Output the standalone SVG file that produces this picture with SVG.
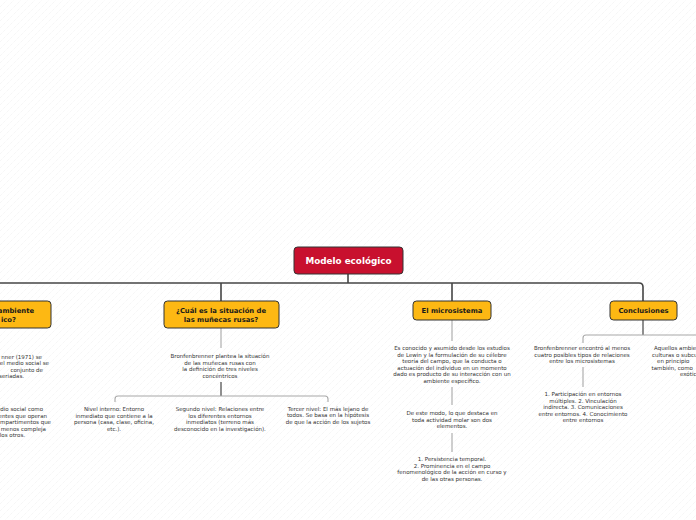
<svg xmlns="http://www.w3.org/2000/svg" width="696" height="520" viewBox="0 0 696 520">
<defs>
<pattern id="hatch" width="7" height="7" patternUnits="userSpaceOnUse">
<path d="M0 7 L7 0" stroke="#e9e9e9" stroke-width="0.6" stroke-dasharray="1 1"/>
</pattern>
<style>
.main{fill:none;stroke:#454545;stroke-width:1.6}
.sub{fill:none;stroke:#a8a8a8;stroke-width:1.1}
.dk{fill:none;stroke:#333;stroke-width:1.1}
.yel{fill:#fdb813;stroke:#333;stroke-width:1}
.red{fill:#c8102e;stroke:#333;stroke-width:1}
.nt{font-family:"DejaVu Sans",Verdana,sans-serif;font-weight:bold;font-size:6.8px;fill:#1a1a1a;text-anchor:middle}
.rt{font-family:"DejaVu Sans",Verdana,sans-serif;font-weight:bold;font-size:8.8px;fill:#fff;text-anchor:middle}
.t{font-family:"DejaVu Sans",Verdana,sans-serif;font-size:5.5px;fill:#333;text-anchor:middle}
.te{font-family:"DejaVu Sans",Verdana,sans-serif;font-size:5.5px;fill:#333;text-anchor:end}
.ts{font-family:"DejaVu Sans",Verdana,sans-serif;font-size:5.5px;fill:#333;text-anchor:start}
.ne{font-family:"DejaVu Sans",Verdana,sans-serif;font-weight:bold;font-size:6.8px;fill:#1a1a1a;text-anchor:end}
</style>
</defs>
<rect width="696" height="520" fill="#fff"/>
<rect width="696" height="520" fill="url(#hatch)"/>

<g id="connectors">
<path class="main" d="M-10 283 H639 Q643 283 643 287 V301"/>
<path class="main" d="M348 274 V283"/>
<path class="main" d="M221 283 V301"/>
<path class="main" d="M452 283 V301"/>
<path class="sub" d="M221 328 V348"/>
<path class="dk" d="M221 382 V396"/>
<path class="sub" d="M115 402 V399 Q115 396 118 396 H325 Q328 396 328 399 V402"/>
<path class="sub" d="M452 320 V341"/>
<path class="sub" d="M452 387 V405"/>
<path class="sub" d="M452 433 V452"/>
<path class="dk" d="M643 320 V335"/>
<path class="sub" d="M583 343 V338 Q583 335 586 335 H700"/>
<path class="sub" d="M583 367 V387"/>
</g>

<g id="root">
<rect class="red" x="294" y="247" width="109" height="27" rx="3.5"/>
<text class="rt" x="348.5" y="264">Modelo ecológico</text>
</g>

<g id="node-ambiente">
<rect class="yel" x="-60" y="301" width="111" height="27" rx="3.5"/>
<text class="ne" x="34" y="313">ambiente</text>
<text class="ne" x="16" y="321.5">ico?</text>
</g>
<g id="ambiente-t1">
<text class="te" x="42" y="358.5">nner (1971) se</text>
<text class="te" x="49" y="365">el medio social se</text>
<text class="te" x="43" y="371.5">conjunto de</text>
<text class="te" x="24" y="378">seriadas.</text>
</g>
<g id="ambiente-t2">
<text class="te" x="43" y="411">medio social como</text>
<text class="te" x="47" y="417.5">entes que operan</text>
<text class="te" x="51" y="424">mpartimentos  que</text>
<text class="te" x="46" y="430.5">menos compleja</text>
<text class="te" x="25" y="437">los otros.</text>
</g>

<g id="node-munecas">
<rect class="yel" x="164" y="301" width="115" height="27" rx="3.5"/>
<text class="nt" x="221" y="313.3">¿Cuál es la situación de</text>
<text class="nt" x="221" y="321.6">las muñecas rusas?</text>
</g>
<g id="munecas-t">
<text class="t" x="220" y="358">Bronfenbrenner plantea la situación</text>
<text class="t" x="220" y="364.6">de las muñecas rusas con</text>
<text class="t" x="220" y="371.2">la definición de tres niveles</text>
<text class="t" x="220" y="377.8">concéntricos</text>
</g>
<g id="nivel-interno">
<text class="t" x="114" y="411">Nivel interno: Entorno</text>
<text class="t" x="114" y="417.6">inmediato que contiene a la</text>
<text class="t" x="114" y="424.2">persona (casa, clase, oficina,</text>
<text class="t" x="114" y="430.8">etc.).</text>
</g>
<g id="segundo-nivel">
<text class="t" x="220" y="411">Segundo nivel: Relaciones entre</text>
<text class="t" x="220" y="417.6">los diferentes entornos</text>
<text class="t" x="220" y="424.2">inmediatos (terreno más</text>
<text class="t" x="220" y="430.8">desconocido en la investigación).</text>
</g>
<g id="tercer-nivel">
<text class="t" x="328" y="410.5">Tercer nivel: El más lejano de</text>
<text class="t" x="328" y="417">todos. Se basa en la hipótesis</text>
<text class="t" x="328" y="423.5">de que la acción de los sujetos</text>
</g>

<g id="node-microsistema">
<rect class="yel" x="413" y="301" width="78" height="19" rx="3.5"/>
<text class="nt" x="452" y="313.2">El microsistema</text>
</g>
<g id="micro-t1">
<text class="t" x="452" y="350">Es conocido y asumido desde los estudios</text>
<text class="t" x="452" y="356.5">de Lewin y la formulación de su célebre</text>
<text class="t" x="452" y="363">teoría del campo, que la conducta o</text>
<text class="t" x="452" y="369.5">actuación del individuo en un momento</text>
<text class="t" x="452" y="376">dado es producto de su interacción con un</text>
<text class="t" x="452" y="382.5">ambiente específico.</text>
</g>
<g id="micro-t2">
<text class="t" x="452" y="415">De este modo, lo que destaca en</text>
<text class="t" x="452" y="421.5">toda actividad molar son dos</text>
<text class="t" x="452" y="428">elementos.</text>
</g>
<g id="micro-t3">
<text class="t" x="452" y="460.5">1. Persistencia temporal.</text>
<text class="t" x="452" y="467.5">2. Prominencia en el campo</text>
<text class="t" x="452" y="474">fenomenológico de la acción en curso y</text>
<text class="t" x="452" y="481">de las otras personas.</text>
</g>

<g id="node-conclusiones">
<rect class="yel" x="610" y="301" width="67" height="19" rx="3.5"/>
<text class="nt" x="643.5" y="313.2">Conclusiones</text>
</g>
<g id="concl-t1">
<text class="t" x="582" y="350">Bronfenbrenner encontró al menos</text>
<text class="t" x="582" y="356.5">cuatro posibles tipos de relaciones</text>
<text class="t" x="582" y="363">entre los microsistemas</text>
</g>
<g id="concl-t2">
<text class="t" x="583" y="396">1. Participación en entornos</text>
<text class="t" x="583" y="402.5">múltiples. 2. Vinculación</text>
<text class="t" x="583" y="409">indirecta. 3. Comunicaciones</text>
<text class="t" x="583" y="415.5">entre entornos. 4. Conocimiento</text>
<text class="t" x="583" y="422">entre entornos</text>
</g>
<g id="concl-t3">
<text class="ts" x="654" y="350">Aquellos ambie</text>
<text class="ts" x="652" y="356.5">culturas o subcu</text>
<text class="ts" x="657" y="363">en principio</text>
<text class="ts" x="651.5" y="369.5">también, como</text>
<text class="ts" x="680" y="376">exótic</text>
</g>
</svg>
